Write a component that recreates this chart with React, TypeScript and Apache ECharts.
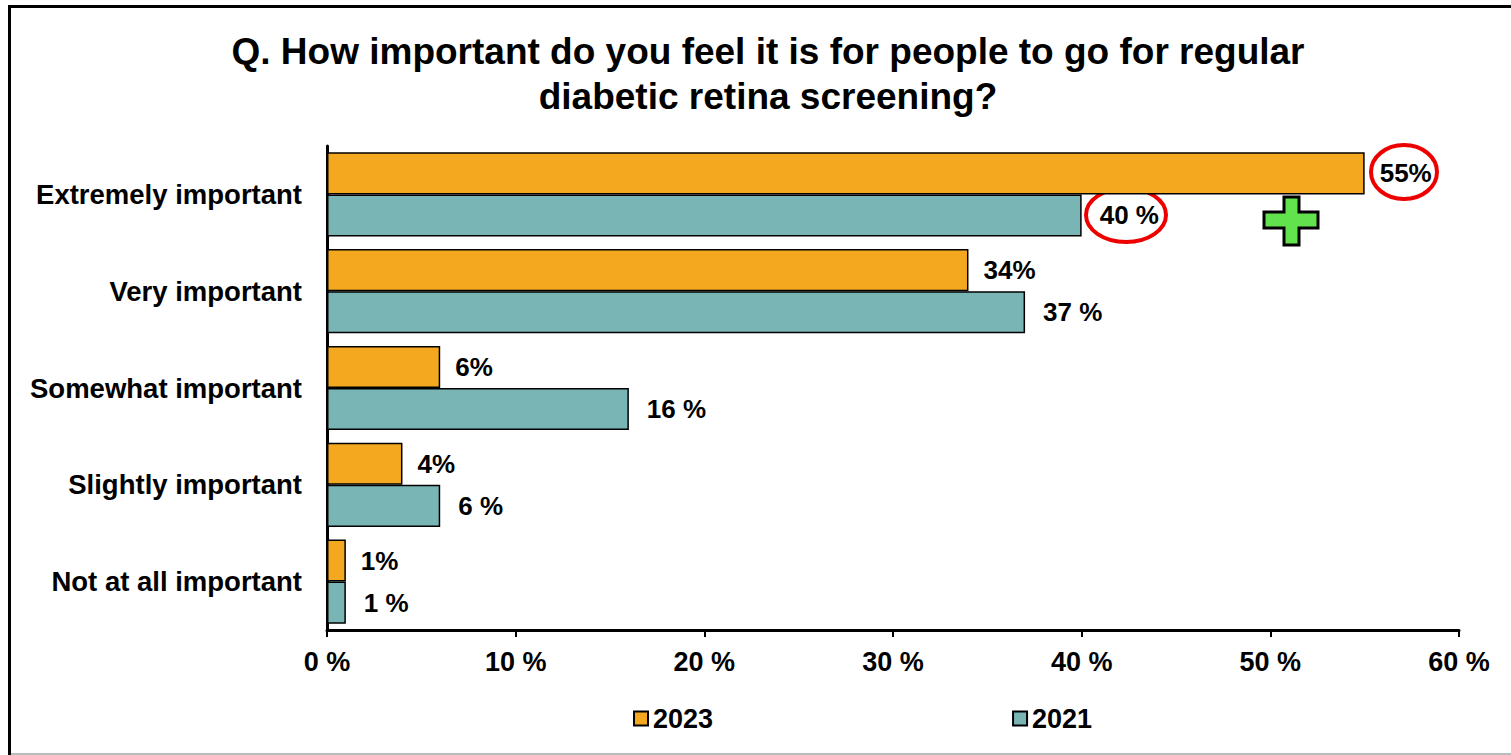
import React, { useEffect, useRef } from "react";
import * as echarts from "echarts";

const categories = ["Extremely important", "Very important", "Somewhat important", "Slightly important", "Not at all important"];
const values2023 = [55, 34, 6, 4, 1];
const values2021 = [40, 37, 16, 6, 1];
const xTicks = [0, 10, 20, 30, 40, 50, 60];

const FONT = "Liberation Sans, Arial, sans-serif";

export default function App() {
  const ref = useRef<HTMLDivElement>(null);
  useEffect(() => {
    if (!ref.current) return;
    const chart = echarts.init(ref.current, undefined, { renderer: "svg" });
    chart.setOption({
      animation: false,
      backgroundColor: "#ffffff",
      textStyle: { fontFamily: FONT },
      title: {
        text: "Q. How important do you feel it is for people to go for regular\ndiabetic retina screening?",
        left: 763,
        textAlign: "center",
        top: 24,
        textStyle: { fontFamily: FONT, fontWeight: "bold", fontSize: 37, color: "#000", lineHeight: 45 },
      },
      legend: {
        top: 700,
        left: 628,
        itemGap: 299,
        itemWidth: 14,
        itemHeight: 14,
        icon: "rect",
        textStyle: { fontFamily: FONT, fontWeight: "bold", fontSize: 27, color: "#000", padding: [0, 0, 0, 0] },
        data: ["2023", "2021"],
      },
      grid: { left: 327, right: 52, top: 146, bottom: 125, containLabel: false },
      xAxis: {
        type: "value",
        min: xTicks[0],
        max: xTicks[xTicks.length - 1],
        interval: 10,
        axisLine: { show: true, lineStyle: { color: "#000", width: 3 } },
        axisTick: { show: true, length: 7, lineStyle: { color: "#000", width: 2 } },
        splitLine: { show: false },
        axisLabel: {
          formatter: (v: number) => `${v} %`,
          fontFamily: FONT,
          fontWeight: "bold",
          fontSize: 27,
          color: "#000",
          margin: 18,
        },
      },
      yAxis: {
        type: "category",
        inverse: true,
        data: categories,
        axisLine: { show: true, lineStyle: { color: "#000", width: 3 } },
        axisTick: { show: false },
        axisLabel: { fontFamily: FONT, fontWeight: "bold", fontSize: 27.5, color: "#000", margin: 25 },
      },
      series: [
        {
          name: "2023",
          type: "bar",
          data: values2023,
          barGap: "0%",
          barCategoryGap: "13%",
          itemStyle: { color: "#F4A81F", borderColor: "#000", borderWidth: 1.5 },
          label: {
            show: true,
            position: "right",
            distance: 15,
            formatter: (p: any) => `${p.value}%`,
            fontFamily: FONT,
            fontWeight: "bold",
            fontSize: 26,
            color: "#000",
          },
        },
        {
          name: "2021",
          type: "bar",
          data: values2021,
          barGap: "0%",
          barCategoryGap: "13%",
          itemStyle: { color: "#7AB5B6", borderColor: "#000", borderWidth: 1.5 },
          label: {
            show: true,
            position: "right",
            distance: 18,
            formatter: (p: any) => `${p.value} %`,
            fontFamily: FONT,
            fontWeight: "bold",
            fontSize: 26,
            color: "#000",
          },
        },
      ],
      graphic: [
        { type: "rect", shape: { x: 9.5, y: 6.5, width: 1600, height: 900 }, style: { fill: "none", stroke: "#000", lineWidth: 3 }, silent: true },
        { type: "line", shape: { x1: 11, y1: 754, x2: 1511, y2: 754 }, style: { stroke: "#bbb", lineWidth: 2 }, silent: true },
        { type: "ellipse", shape: { cx: 1404, cy: 172, rx: 33, ry: 27 }, style: { fill: "none", stroke: "#ee0000", lineWidth: 4 } },
        { type: "ellipse", shape: { cx: 1126, cy: 215, rx: 40, ry: 27 }, style: { fill: "none", stroke: "#ee0000", lineWidth: 4 } },
        {
          type: "polygon",
          shape: {
            points: [
              [1284, 197], [1299, 197], [1299, 212], [1318, 212], [1318, 228], [1299, 228], [1299, 245],
              [1284, 245], [1284, 228], [1264, 228], [1264, 212], [1284, 212],
            ],
          },
          style: { fill: "#62E24C", stroke: "#000", lineWidth: 3 },
        },
      ],
    });
    return () => chart.dispose();
  }, []);
  return <div ref={ref} style={{ position: "fixed", left: 0, top: 0, width: 1511, height: 755 }} />;
}
